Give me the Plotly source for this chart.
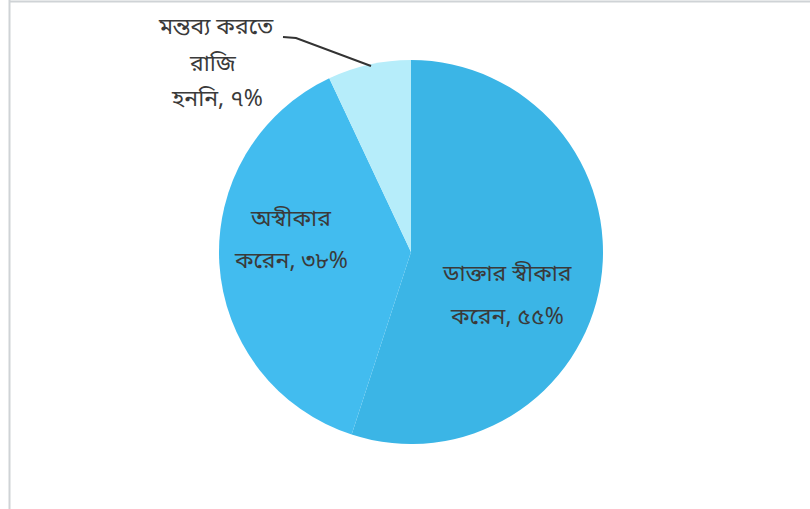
import plotly.graph_objects as go

# Survey responses (share of respondents, %)
categories = ["ডাক্তার স্বীকার করেন", "অস্বীকার করেন", "মন্তব্য করতে রাজি হননি"]
values = [55, 38, 7]
# Label lines drawn for each slice
label_lines = [
    ["ডাক্তার স্বীকার", "করেন, ৫৫%"],
    ["অস্বীকার", "করেন, ৩৮%"],
    ["মন্তব্য করতে", "রাজি", "হননি, ৭%"],
]
colors = ["#3bb5e6", "#42bcef", "#b6edfa"]

W, H = 810, 509
cx, cy, r = 411, 252, 192

fig = go.Figure(
    go.Pie(
        labels=categories,
        values=values,
        sort=False,
        direction="clockwise",
        rotation=0,
        marker=dict(colors=colors, line=dict(width=0)),
        textinfo="none",
        hoverinfo="label+percent",
        showlegend=False,
        domain=dict(x=[(cx - r) / W, (cx + r) / W], y=[(H - cy - r) / H, (H - cy + r) / H]),
    )
)

font = dict(family="Noto Sans Bengali, Noto Sans, DejaVu Sans, sans-serif", size=23, color="#3a3a3a")

# Label line positions (pixel centres) for each slice
label_pos = [
    [(507, 275), (507, 318)],
    [(290, 220), (291, 262)],
    [(216, 28), (213, 65), (217, 100)],
]
for lines, positions in zip(label_lines, label_pos):
    for txt, (x, y) in zip(lines, positions):
        fig.add_annotation(
            x=x / W, y=1 - y / H, xref="paper", yref="paper",
            xanchor="center", yanchor="middle",
            text=txt, showarrow=False, font=font, align="center",
        )

# Leader line for the small slice
fig.add_shape(
    type="path", xref="paper", yref="paper",
    path=f"M {283/W},{1-37/H} L {296/W},{1-38/H} L {371/W},{1-66/H}",
    line=dict(color="#333333", width=2),
)

# Light frame on the top and left edges
fig.add_shape(type="line", xref="paper", yref="paper",
              x0=9 / W, x1=1, y0=1 - 1.5 / H, y1=1 - 1.5 / H,
              line=dict(color="#cfd3d6", width=2))
fig.add_shape(type="line", xref="paper", yref="paper",
              x0=9.5 / W, x1=9.5 / W, y0=0, y1=1,
              line=dict(color="#cfd3d6", width=2))

fig.update_layout(
    width=W, height=H,
    margin=dict(l=0, r=0, t=0, b=0),
    paper_bgcolor="white",
    plot_bgcolor="white",
)

fig.write_html("out.html")
